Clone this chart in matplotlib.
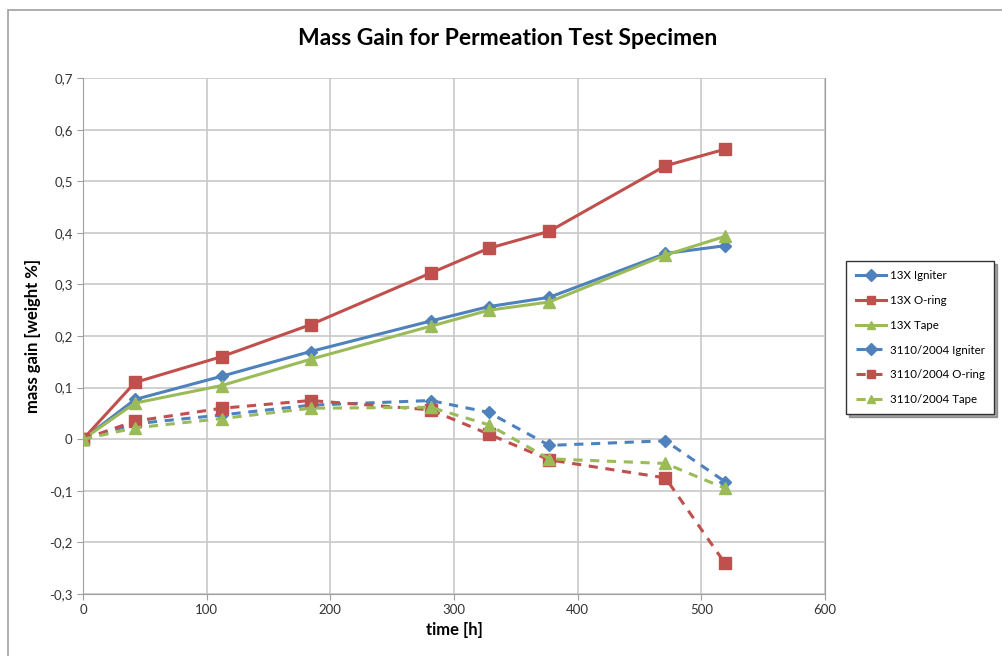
import matplotlib
matplotlib.use("Agg")
import matplotlib.pyplot as plt
from matplotlib.ticker import FuncFormatter, MultipleLocator
from matplotlib.patches import Rectangle

plt.rcParams['font.family'] = ['Lato', 'DejaVu Sans']

time_h = [0, 42, 112, 184, 281, 328, 377, 471, 519]
x13_igniter = [0, 0.077, 0.122, 0.170, 0.229, 0.257, 0.275, 0.360, 0.375]
x13_oring = [0, 0.110, 0.160, 0.222, 0.322, 0.370, 0.403, 0.530, 0.562]
x13_tape = [0, 0.070, 0.104, 0.155, 0.219, 0.250, 0.266, 0.357, 0.393]
s3110_igniter = [0, 0.030, 0.047, 0.066, 0.075, 0.052, -0.012, -0.003, -0.082]
s3110_oring = [0, 0.035, 0.060, 0.075, 0.057, 0.010, -0.040, -0.075, -0.240]
s3110_tape = [0, 0.022, 0.040, 0.060, 0.062, 0.028, -0.038, -0.047, -0.095]

blue = "#4F81BD"
red = "#C0504D"
green = "#9BBB59"

fig = plt.figure(figsize=(10.03, 6.56), dpi=100)
fig.patches.append(Rectangle((0.008, -0.01), 1.1, 0.995, transform=fig.transFigure,
                             fill=False, edgecolor="#a0a0a0", linewidth=1.2))
ax = fig.add_axes([0.0828, 0.0945, 0.7397, 0.7865])

ax.plot(time_h, x13_igniter, color=blue, lw=2.2, marker="D", ms=6, label="13X Igniter")
ax.plot(time_h, x13_oring, color=red, lw=2.2, marker="s", ms=8, label="13X O-ring")
ax.plot(time_h, x13_tape, color=green, lw=2.2, marker="^", ms=8, label="13X Tape")
ax.plot(time_h, s3110_igniter, color=blue, lw=2.2, ls=(0, (3, 2.5)), marker="D", ms=6,
        label="3110/2004 Igniter")
ax.plot(time_h, s3110_oring, color=red, lw=2.2, ls=(0, (3, 2.5)), marker="s", ms=8,
        label="3110/2004 O-ring")
ax.plot(time_h, s3110_tape, color=green, lw=2.2, ls=(0, (3, 2.5)), marker="^", ms=8,
        label="3110/2004 Tape")

ax.set_xlim(0, 600)
ax.set_ylim(-0.3, 0.7)
ax.xaxis.set_major_locator(MultipleLocator(100))
ax.yaxis.set_major_locator(MultipleLocator(0.1))

def comma_fmt(v, pos):
    if abs(v) < 1e-9:
        return "0"
    return ("%.1f" % v).replace(".", ",")

ax.yaxis.set_major_formatter(FuncFormatter(comma_fmt))
ax.grid(True, color="#c8c8c8", lw=1.2)
ax.set_axisbelow(True)
ax.spines["top"].set_visible(False)
for s in ["right", "left", "bottom"]:
    ax.spines[s].set_color("#a0a0a0")
ax.tick_params(length=4, color="#a0a0a0", labelsize=9.5, labelcolor="#333333")

ax.set_xlabel("time [h]", fontsize=12, fontweight="bold", labelpad=4)
ax.set_ylabel("mass gain [weight %]", fontsize=12, fontweight="bold", labelpad=6)
fig.suptitle("Mass Gain for Permeation Test Specimen", fontsize=16.5, fontweight="bold",
             x=0.506, y=0.958)

leg = ax.legend(loc="center left", bbox_to_anchor=(1.029, 0.497), fontsize=8.3,
                frameon=True, fancybox=False, shadow=True, edgecolor="#333333",
                handlelength=2.6, labelspacing=1.2, borderpad=0.8, handletextpad=0.4,
                borderaxespad=0)
leg.get_frame().set_linewidth(1.0)
for h in leg.legend_handles:
    h.set_markersize(6)

fig.savefig("out.png", dpi=100)
